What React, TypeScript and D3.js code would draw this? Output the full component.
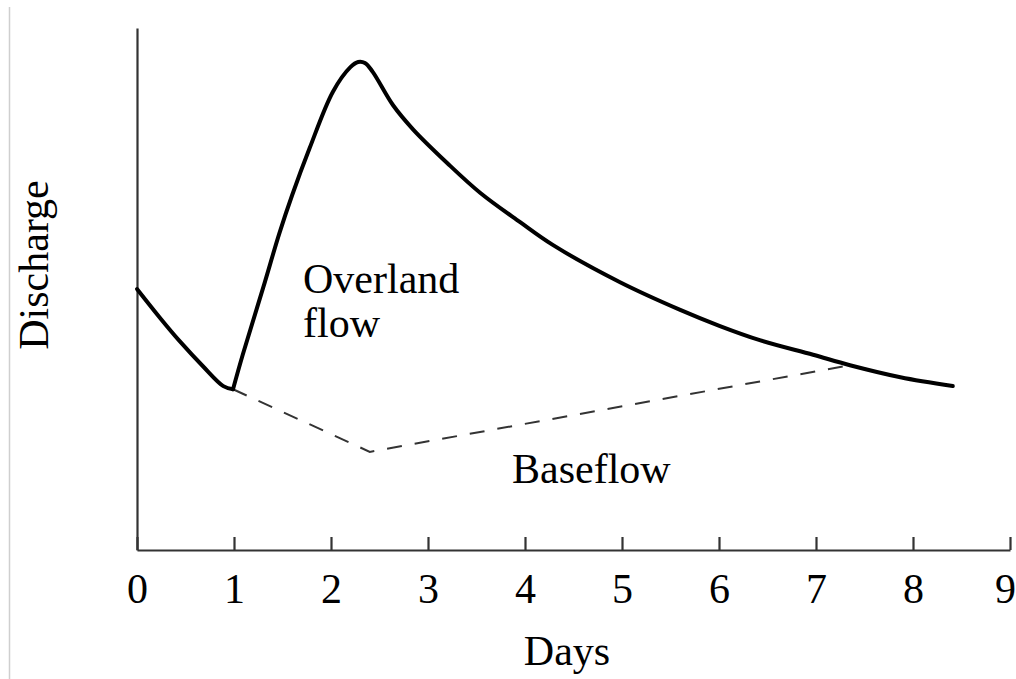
import * as d3 from "d3";
import { useEffect, useRef } from "react";

interface Pt {
    day: number;
    q: number;
}

// total discharge (storm hydrograph)
const hydroDays = [0, 0.24, 0.44, 0.68, 0.89, 0.99, 1.09, 1.3, 1.47, 1.6, 1.78, 2.02, 2.2, 2.28, 2.35, 2.43, 2.64, 2.85, 3.2, 3.54, 3.95, 4.29, 4.98, 5.6, 6.01, 6.42, 6.97, 7.35, 7.87, 8.41];
const hydroQ = [5.0, 4.44, 4.0, 3.52, 3.14, 3.08, 3.74, 5.02, 6.08, 6.8, 7.7, 8.78, 9.25, 9.35, 9.33, 9.16, 8.52, 8.05, 7.41, 6.84, 6.28, 5.84, 5.13, 4.6, 4.29, 4.02, 3.74, 3.54, 3.31, 3.14];

// baseflow separation (dashed)
const baseDays = [0.99, 2.4, 7.35];
const baseQ = [3.08, 1.88, 3.54];

const dayTicks = [0, 1, 2, 3, 4, 5, 6, 7, 8, 9];

const hydro: Pt[] = hydroDays.map((d, i) => ({ day: d, q: hydroQ[i] }));
const base: Pt[] = baseDays.map((d, i) => ({ day: d, q: baseQ[i] }));

// split at the trough so the corner stays sharp
const troughIdx = hydroQ.slice(0, 10).indexOf(d3.min(hydroQ.slice(0, 10))!);
const fallingLimb = hydro.slice(0, troughIdx + 1);
const risingAndRecession = hydro.slice(troughIdx);

export default function App() {
    const svgRef = useRef(null);

    const width = 1016;
    const height = 679;
    const margin = { top: 28, right: 6, bottom: 129, left: 137 };
    const font = "'Liberation Serif', 'Times New Roman', serif";

    useEffect(() => {
        const svg = d3.select(svgRef.current);
        svg.selectAll('*').remove();

        const x = d3.scaleLinear().domain([0, 9]).range([margin.left, width - margin.right]);
        const y = d3.scaleLinear().domain([0, 10]).range([height - margin.bottom, margin.top]);

        // faint frame line on the left edge
        svg.append('line')
            .attr('x1', 9.5).attr('x2', 9.5)
            .attr('y1', 7).attr('y2', height)
            .attr('stroke', '#cfcfcf')
            .attr('stroke-width', 1.5);

        // x axis, ticks pointing up
        const xAxis = svg.append('g')
            .attr('transform', `translate(0,${height - margin.bottom})`)
            .call(d3.axisBottom(x).tickValues(dayTicks).tickSizeInner(-13).tickSizeOuter(0).tickPadding(23));
        xAxis.select('.domain').attr('stroke', '#333').attr('stroke-width', 2.2);
        xAxis.selectAll('.tick line').attr('stroke', '#333').attr('stroke-width', 2.2);
        xAxis.selectAll('.tick text')
            .attr('font-family', font)
            .attr('font-size', 42)
            .attr('fill', '#000');
        // last label sits a little inside the edge
        xAxis.selectAll<SVGTextElement, number>('.tick text')
            .filter(d => d === 9)
            .attr('dx', -5);

        // y axis, no ticks
        const yAxis = svg.append('g')
            .attr('transform', `translate(${margin.left},0)`)
            .call(d3.axisLeft(y).tickValues([]).tickSizeOuter(0));
        yAxis.select('.domain').attr('stroke', '#333').attr('stroke-width', 2.2);

        const line = d3.line<Pt>()
            .x(d => x(d.day))
            .y(d => y(d.q))
            .curve(d3.curveCatmullRom.alpha(0.5));

        // baseflow
        svg.append('path')
            .datum(base)
            .attr('d', d3.line<Pt>().x(d => x(d.day)).y(d => y(d.q)))
            .attr('fill', 'none')
            .attr('stroke', '#333')
            .attr('stroke-width', 2)
            .attr('stroke-dasharray', '15 13');

        // hydrograph
        [fallingLimb, risingAndRecession].forEach(seg => {
            svg.append('path')
                .datum(seg)
                .attr('d', line)
                .attr('fill', 'none')
                .attr('stroke', '#000')
                .attr('stroke-width', 4)
                .attr('stroke-linejoin', 'round')
                .attr('stroke-linecap', 'round');
        });

        const label = (txt: string, lx: number, ly: number, anchor = 'start') =>
            svg.append('text')
                .attr('x', lx)
                .attr('y', ly)
                .attr('text-anchor', anchor)
                .attr('font-family', font)
                .attr('font-size', 42)
                .attr('fill', '#000')
                .text(txt);

        label('Overland', 303, 293);
        label('flow', 303, 337);
        label('Baseflow', 512, 483);
        label('Days', 567, 665, 'middle');

        svg.append('text')
            .attr('transform', `translate(48,265) rotate(-90)`)
            .attr('text-anchor', 'middle')
            .attr('font-family', font)
            .attr('font-size', 42)
            .attr('fill', '#000')
            .text('Discharge');
    }, []);

    return (
        <svg ref={svgRef} width={width} height={height}
            style={{ position: 'absolute', left: 0, top: 0, background: '#fff' }}>
        </svg>
    );
}
